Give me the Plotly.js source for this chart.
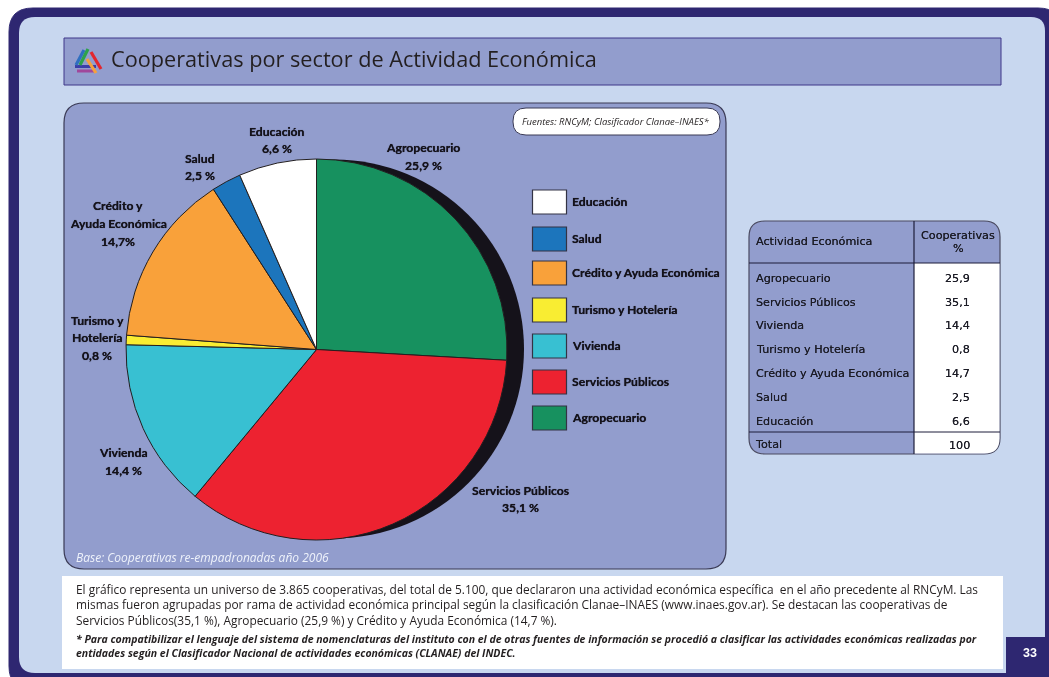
<!DOCTYPE html>
<html lang="es">
<head>
<meta charset="utf-8">
<title>Cooperativas por sector de Actividad Económica</title>
<script src="https://cdn.plot.ly/plotly-3.0.1.min.js"></script>
<style>html,body{margin:0;padding:0;background:#fff;overflow:hidden}#chart{width:1049px;height:677px;filter:blur(0.4px)}</style>
</head>
<body>
<div id="chart"></div>
<script>
// ---- data ----
const sectors = ["Agropecuario","Servicios Públicos","Vivienda","Turismo y Hotelería","Crédito y Ayuda Económica","Salud","Educación"];
const shares = [25.9,35.1,14.4,0.8,14.7,2.5,6.6];
const sectorColors = ["#17915f","#ed2230","#38c0d2","#f9ed32","#f9a13a","#1c75bc","#ffffff"];
const sliceNames = [["Agropecuario"],["Servicios Públicos"],["Vivienda"],["Turismo y","Hotelería"],["Crédito y","Ayuda Económica"],["Salud"],["Educación"]];
const sliceSuffix = [" %"," %"," %"," %","%"," %"," %"];
const tableHeader = ["Actividad Económica","Cooperativas","%"];
const tableTotal = ["Total","100"];
const titleText = "Cooperativas por sector de Actividad Económica";
const sourceNote = "Fuentes: RNCyM; Clasificador Clanae–INAES*";
const baseNote = "Base: Cooperativas re-empadronadas año 2006";
const bodyLines = [
 "El gráfico representa un universo de 3.865 cooperativas, del total de 5.100, que declararon una actividad económica específica  en el año precedente al RNCyM. Las",
 "mismas fueron agrupadas por rama de actividad económica principal según la clasificación Clanae–INAES (www.inaes.gov.ar). Se destacan las cooperativas de",
 "Servicios Públicos(35,1 %), Agropecuario (25,9 %) y Crédito y Ayuda Económica (14,7 %)."
];
const footLines = [
 "* Para compatibilizar el lenguaje del sistema de nomenclaturas del instituto con el de otras fuentes de información se procedió a clasificar las actividades económicas realizadas por",
 "entidades según el Clasificador Nacional de actividades económicas (CLANAE) del INDEC."
];
const pageNumber = "33";

// ---- layout helpers (page pixels -> paper fractions) ----
const W = 1049, H = 677;
const px = x => x / W, py = y => 1 - y / H;
const comma = v => String(v).replace(".", ",");
const pt = (x, y) => px(x) + "," + py(y);
function rr(x0, y0, x1, y1, tl, tr, br, bl) {
  return "M" + pt(x0 + tl, y0) + " L" + pt(x1 - tr, y0) + " Q" + pt(x1, y0) + " " + pt(x1, y0 + tr) +
    " L" + pt(x1, y1 - br) + " Q" + pt(x1, y1) + " " + pt(x1 - br, y1) +
    " L" + pt(x0 + bl, y1) + " Q" + pt(x0, y1) + " " + pt(x0, y1 - bl) +
    " L" + pt(x0, y0 + tl) + " Q" + pt(x0, y0) + " " + pt(x0 + tl, y0) + " Z";
}
const box = (x0, y0, x1, y1, r, fill, line, lw) => ({type:"path", layer:"below", xref:"paper", yref:"paper",
  path: rr(x0, y0, x1, y1, r, r, r, r), fillcolor: fill, line:{color: line || fill, width: lw === undefined ? 1 : lw}});
const seg = (x0, y0, x1, y1, color, width) => ({type:"line", layer:"below", xref:"paper", yref:"paper",
  x0:px(x0), y0:py(y0), x1:px(x1), y1:py(y1), line:{color, width}});
const ann = (x, y, text, font, xanchor) => ({xref:"paper", yref:"paper", x:px(x), y:py(y), text, showarrow:false,
  xanchor: xanchor || "center", yanchor:"middle", align: xanchor || "center", borderpad:0, borderwidth:0, font});

// ---- palette ----
const navy = "#2e2771", panel = "#c8d7ef", slate = "#929dcd", ink = "#231f20";
const FONT = "'Open Sans', 'Noto Sans', sans-serif";
const LABEL = "Lato, 'Open Sans', sans-serif";
const TABLE = "'DejaVu Sans', sans-serif";

// ---- pie geometry ----
const pieCx = 316.5, pieCy = 349.5, pieR = 190.5;

const shapes = [
  box(9, 8, 1062, 690, 24, navy),
  {type:"path", layer:"below", xref:"paper", yref:"paper", path: rr(19, 17, 1045, 673, 16, 14, 0, 16), fillcolor:panel, line:{color:panel, width:0}},
  box(64, 38, 1001, 85, 0, slate, "#3e3789", 1),
  box(64, 103, 726, 569, 20, slate, "#3a3a55", 1.2),
  {type:"circle", layer:"below", xref:"paper", yref:"paper", x0:px(334.5-189.5), x1:px(334.5+189.5), y0:py(349+189.5), y1:py(349-189.5), fillcolor:"#15121a", line:{width:0}},
  box(513, 108, 720, 135, 13, "#ffffff", "#3a3a55", 1),
  box(62, 576, 1003, 669, 0, "#ffffff", "#ffffff", 0),
  {type:"path", layer:"below", xref:"paper", yref:"paper", path:"M"+pt(1006,637)+" L"+pt(1049,637)+" L"+pt(1049,677)+" L"+pt(1006,677)+" Z", fillcolor:navy, line:{width:0}},
  // logo
  seg(77,71,94,71,"#a0479b",3),
  seg(75,66.5,96,66.5,"#3b3fa8",3),
  seg(76,65,84,50,"#2f6fc0",3.2),
  seg(80,65,88,49,"#2da24a",3.2),
  seg(91,52,101,69,"#e3262e",3.2),
  seg(87,59,96,73,"#f6a13c",3.2),
  // table
  box(749, 221, 1000, 454, 16, slate, "#4a4a60", 1.2),
  {type:"path", layer:"below", xref:"paper", yref:"paper", path: rr(914, 263, 999.5, 453.5, 0, 0, 15, 0), fillcolor:"#ffffff", line:{width:0}},
  seg(914, 221, 914, 454, "#1d1d3a", 1.2),
  seg(749, 263, 1000, 263, "#1d1d3a", 1.2),
  seg(749, 432, 1000, 432, "#1d1d3a", 1)
];

// legend swatches, top to bottom: reverse of the sector order
const legendTops = [190, 227, 261, 298, 334, 370, 406];
const legendOrder = sectors.map((_, i) => sectors.length - 1 - i);
legendOrder.forEach((s, row) => shapes.push(box(532.5, legendTops[row], 566.5, legendTops[row] + 24, 0, sectorColors[s], "#333344", 1.2)));

const labelFont = {family:LABEL, size:12.2, color:"#14121a", weight:700, shadow:"0 0 0.7px #14121a"};
const sliceAt = [[423,148],[520,490],[123,453],[97,320],[118,206],[200,158],[277,131]];
const rowY = [278,302,325,349,373,397,421];
const tableFont = {family:TABLE, size:11.2, color:"#1c1c26", shadow:"0 0 0.5px #1c1c26"};

const annotations = [
  ann(615.5, 122, sourceNote, {family:FONT, size:9.5, color:ink, style:"italic"}),
  ann(76, 557, baseNote, {family:FONT, size:12, color:"#eef2fb", style:"italic"}, "left"),
  ann(1030, 653, pageNumber, {family:"'Liberation Sans', sans-serif", size:12.5, color:"#ffffff", weight:700}),
  ann(756, 241.5, tableHeader[0], tableFont, "left"),
  ann(958, 235, tableHeader[1], tableFont),
  ann(958, 249, tableHeader[2], tableFont),
  ann(755, 444.5, tableTotal[0], tableFont, "left"),
  ann(970, 445.5, tableTotal[1], tableFont, "right")
];
sectors.forEach((name, i) => {
  const lines = sliceNames[i].concat(comma(shares[i]) + sliceSuffix[i]);
  lines.forEach((t, k) => annotations.push(ann(sliceAt[i][0], sliceAt[i][1] + k * 17.5, t, labelFont)));
  annotations.push(ann(756, rowY[i], name, tableFont, "left"));
  annotations.push(ann(970, rowY[i], comma(shares[i]), tableFont, "right"));
});
legendOrder.forEach((s, row) => annotations.push(ann(572, legendTops[row] + 11.5, sectors[s], labelFont, "left")));
const bodyY = [589, 604, 620], footY = [639, 653];
bodyLines.forEach((t, i) => annotations.push(ann(76, bodyY[i], t, {family:FONT, size:11.9, color:ink}, "left")));
footLines.forEach((t, i) => annotations.push(ann(76, footY[i], t, {family:FONT, size:10.5, color:ink, weight:700, style:"italic"}, "left")));

const trace = {
  type:"pie", values:shares, labels:sectors, sort:false, direction:"clockwise", rotation:0,
  marker:{colors:sectorColors, line:{color:ink, width:1}},
  textinfo:"none", hoverinfo:"label+value", showlegend:false,
  domain:{x:[px(pieCx-pieR), px(pieCx+pieR)], y:[py(pieCy+pieR), py(pieCy-pieR)]}
};

const layout = {
  width:W, height:H, margin:{l:0,r:0,t:0,b:0}, showlegend:false,
  paper_bgcolor:"#ffffff", plot_bgcolor:"rgba(0,0,0,0)",
  title:{text:titleText, x:px(111), xanchor:"left", y:py(59), yanchor:"middle", font:{family:FONT, size:21.7, color:ink}},
  shapes, annotations
};
Plotly.newPlot("chart", [trace], layout, {displayModeBar:false, responsive:false});
</script>
</body>
</html>
